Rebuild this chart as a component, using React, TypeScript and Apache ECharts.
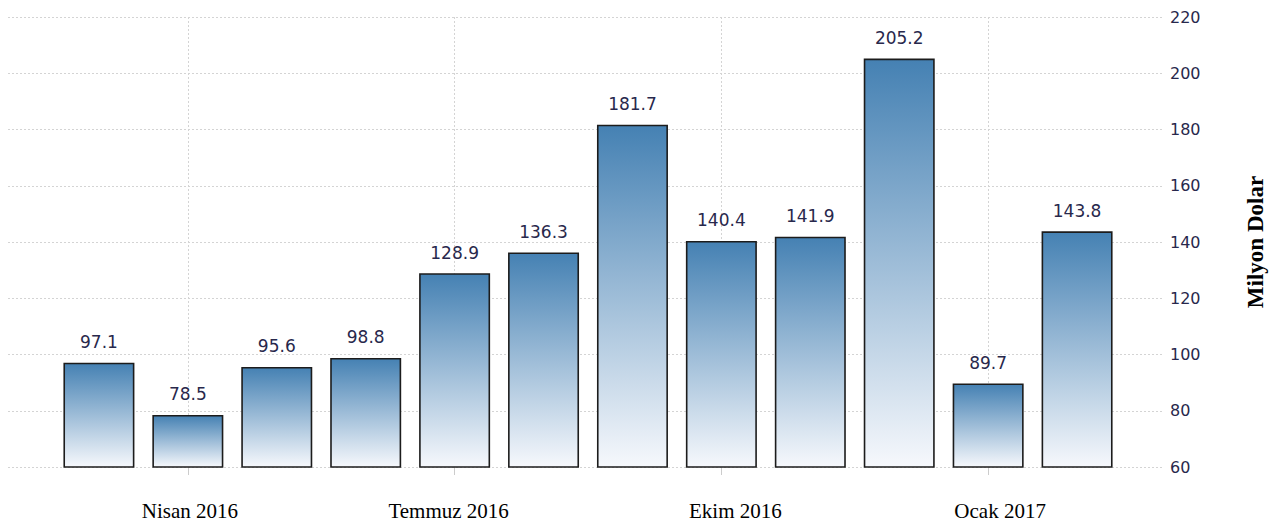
import React, { useEffect, useRef } from "react";
import * as echarts from "echarts";

const months = [
  "Mart 2016", "Nisan 2016", "Mayıs 2016", "Haziran 2016", "Temmuz 2016", "Ağustos 2016",
  "Eylül 2016", "Ekim 2016", "Kasım 2016", "Aralık 2016", "Ocak 2017", "Şubat 2017",
];
const values = [97.1, 78.5, 95.6, 98.8, 128.9, 136.3, 181.7, 140.4, 141.9, 205.2, 89.7, 143.8];
const labeledMonthIdx = [1, 4, 7, 10];
const yMin = 60;
const yMax = 220;
const yStep = 20;
const yAxisTitle = "Milyon Dolar";

// small horizontal nudges of the month labels (px), as in the reference
const labelNudge: Record<number, number> = { 1: 2, 4: -6, 7: 14, 10: 12 };

export default function App() {
  const ref = useRef<HTMLDivElement>(null);
  useEffect(() => {
    if (!ref.current) return;
    const chart = echarts.init(ref.current, null, { renderer: "svg" });
    const labelColor = "#28284c";
    const rich: Record<string, any> = {};
    labeledMonthIdx.forEach((i) => {
      const n = labelNudge[i] || 0;
      rich["m" + i] = {
        fontFamily: "Liberation Serif",
        fontSize: 21,
        color: "#000000",
        padding: n >= 0 ? [0, 0, 0, 2 * n] : [0, -2 * n, 0, 0],
      };
    });
    chart.setOption({
      animation: false,
      backgroundColor: "#ffffff",
      grid: { left: 8, right: 112, top: 17, bottom: 57, containLabel: false },
      xAxis: {
        type: "value",
        min: -1.0225,
        max: 11.955,
        axisLine: { show: false },
        axisTick: {
          show: true,
          customValues: labeledMonthIdx,
          length: 8,
          lineStyle: { color: "#cccccc", width: 1 },
        },
        axisLabel: {
          customValues: labeledMonthIdx,
          formatter: (v: number) => {
            const i = Math.round(v);
            return months[i] ? "{m" + i + "|" + months[i] + "}" : "";
          },
          rich,
          fontFamily: "Liberation Serif",
          fontSize: 21,
          color: "#000000",
          margin: 33,
        },
        splitLine: {
          show: true,
          lineStyle: { color: "#d4d4d4", type: [2, 2], width: 1 },
        },
      },
      yAxis: {
        type: "value",
        position: "right",
        min: yMin,
        max: yMax,
        interval: yStep,
        name: yAxisTitle,
        nameLocation: "middle",
        nameRotate: 90,
        nameGap: 82,
        nameTextStyle: {
          fontFamily: "Liberation Serif",
          fontWeight: "bold",
          fontSize: 23,
          color: "#000000",
        },
        axisLine: { show: false },
        axisTick: { show: false },
        axisLabel: {
          fontFamily: "DejaVu Sans",
          fontSize: 16,
          color: labelColor,
          margin: 8,
        },
        splitLine: {
          show: true,
          lineStyle: { color: "#d4d4d4", type: [2, 2], width: 1 },
        },
      },
      series: [
        {
          type: "bar",
          data: values.map((v, i) => [i, v]),
          barWidth: 71,
          clip: true,
          itemStyle: {
            color: new echarts.graphic.LinearGradient(0, 0, 0, 1, [
              { offset: 0, color: "#4581b3" },
              { offset: 1, color: "#f6f8fc" },
            ]),
            borderColor: "#1c1c1c",
            borderWidth: 1.6,
          },
          label: {
            show: true,
            position: "top",
            distance: 12,
            fontFamily: "DejaVu Sans",
            fontSize: 17,
            color: labelColor,
            formatter: (p: any) => Number(p.value[1]).toFixed(1),
          },
        },
      ],
    });
    return () => chart.dispose();
  }, []);
  return (
    <div
      ref={ref}
      style={{ position: "fixed", left: 0, top: 0, width: 1275, height: 524 }}
    />
  );
}
